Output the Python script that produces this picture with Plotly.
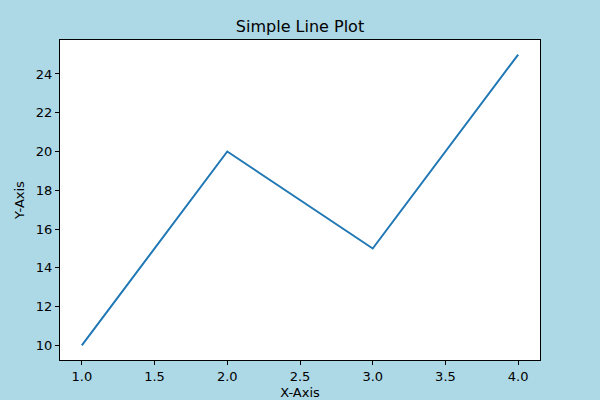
import plotly.graph_objects as go

x_vals = [1, 2, 3, 4]
y_vals = [10, 20, 15, 25]
x_ticks = [1.0, 1.5, 2.0, 2.5, 3.0, 3.5, 4.0]
y_ticks = [10, 12, 14, 16, 18, 20, 22, 24]

fig = go.Figure()
fig.add_trace(go.Scatter(x=x_vals, y=y_vals, mode="lines",
                         line=dict(color="#1f77b4", width=2)))

font = "DejaVu Sans"
fig.update_layout(
    width=600, height=400,
    paper_bgcolor="#add8e6", plot_bgcolor="white",
    margin=dict(l=60, r=60, t=40, b=40),
    showlegend=False,
    title=dict(text="Simple Line Plot", x=0.5, xanchor="center", y=1 - 26/400, yanchor="middle",
               font=dict(family=font, size=16, color="black")),
    font=dict(family=font, size=13, color="black"),
)
fig.update_xaxes(range=[0.85, 4.15], tickvals=x_ticks, ticktext=[f"{v:.1f}" for v in x_ticks],
                 showgrid=False, zeroline=False, showline=True, linecolor="black", linewidth=1,
                 mirror=True, ticks="outside", ticklen=4, tickcolor="black", automargin=False,
                 title=dict(text="X-Axis", standoff=8, font=dict(size=13)))
fig.update_yaxes(range=[9.25, 25.75], tickvals=y_ticks, ticktext=[str(v) for v in y_ticks],
                 showgrid=False, zeroline=False, showline=True, linecolor="black", linewidth=1,
                 mirror=True, ticks="outside", ticklen=4, tickcolor="black", automargin=False,
                 title=dict(text="Y-Axis", standoff=8, font=dict(size=13)))

fig.write_html("out.html", config={"displayModeBar": False},
               post_script="document.body.style.margin='0';document.body.style.overflow='hidden';")
